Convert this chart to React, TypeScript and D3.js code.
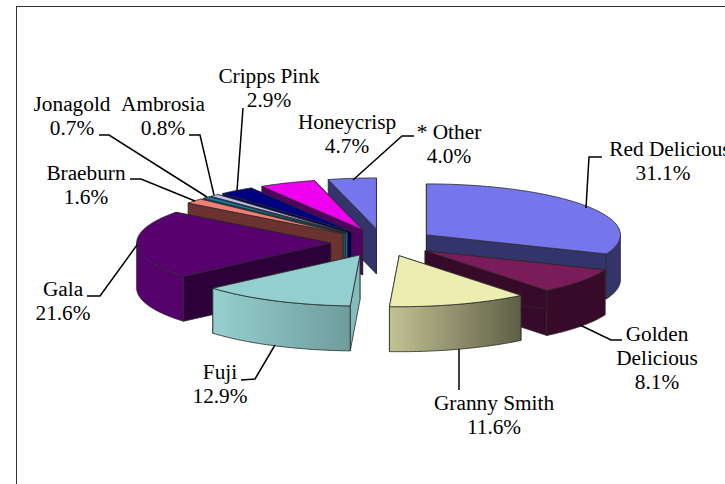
import React from 'react';
import * as d3 from 'd3';

const categories = ['Red Delicious','Golden Delicious','Granny Smith','Fuji','Gala','Braeburn','Jonagold','Ambrosia','Cripps Pink','Honeycrisp','* Other'];
const shares = [31.1,8.1,11.6,12.9,21.6,1.6,0.7,0.8,2.9,4.7,4.0];
const topColors = ['#7676ec','#7a1c5a','#ededb2','#93cfcf','#590070','#f08078','#0e84a8','#c2c2f2','#000080','#ee00ee','#7676ec'];
const wallColors = ['#34346c','#360a28','#b8b88e','#84bcbc','#2c0038','#6c3230','#0a5a70','#606088','#000058','#540060','#34346c'];
const outerFrom = ['#34346c','#360a28','#c2c294','#96d0d0','#56006c','#6c3230','#0a5a70','#606088','#000058','#540060','#34346c'];
const outerTo = ['#34346c','#360a28','#5e5e46','#6e9c9c','#56006c','#6c3230','#0a5a70','#606088','#000058','#540060','#34346c'];
const paintOrder = [10,9,8,7,6,5,4,0,1,2,3];

const labels: [string[], number, number][] = [
  [['Red Delicious'],670,156],
  [['31.1%'],663,180],
  [['Golden','Delicious','8.1%'],657,341],
  [['Granny Smith','11.6%'],494,410],
  [['Fuji','12.9%'],220,379],
  [['Gala','21.6%'],63,296],
  [['Braeburn','1.6%'],86,180],
  [['Jonagold','0.7%'],72,111],
  [['Ambrosia','0.8%'],163,111],
  [['Cripps Pink','2.9%'],269,83],
  [['Honeycrisp','4.7%'],347,129],
  [['* Other','4.0%'],449,139],
];
const leaders: [number,number][][] = [
  [[602,157],[589,157],[586,208]],
  [[622,340],[611,340],[580,325]],
  [[459,390],[459,349]],
  [[241,380],[255,379],[275,345]],
  [[87,296],[100,296],[137,245]],
  [[130,179],[141,179],[195,201]],
  [[99,135],[109,135],[207,197]],
  [[189,135],[200,135],[214,195]],
  [[243,108],[237,191]],
  [[414,136],[402,136],[353,180]],
];

const W = 725, H = 484;
const CX = 383, CY = 242.6, RX = 194, RY = 51, DEPTH = 45, EXPLODE = 0.27;
const STROKE = '#2a2a2a';

const pieGen = d3.pie<number>().sort(null).value(d => d).startAngle(0).endAngle(2 * Math.PI);
const line = d3.line<[number,number]>();
const sampled = (a0: number, a1: number) => {
  const n = Math.max(2, Math.ceil(Math.abs(a1 - a0) / 0.02));
  return d3.range(n + 1).map(i => a0 + (a1 - a0) * i / n);
};

export default function App() {
  const arcs = pieGen(shares);
  const parts = paintOrder.map(i => {
    const { startAngle: a0, endAngle: a1 } = arcs[i];
    const mid = (a0 + a1) / 2;
    const ax = CX + EXPLODE * RX * Math.sin(mid);
    const ay = CY - EXPLODE * RY * Math.cos(mid);
    const pt = (a: number, dz = 0): [number,number] => [ax + RX * Math.sin(a), ay - RY * Math.cos(a) + dz];
    const apex: [number,number] = [ax, ay];
    const apexB: [number,number] = [ax, ay + DEPTH];
    const rim = sampled(a0, a1).map(a => pt(a));
    const top = line([apex, ...rim])! + 'Z';
    const w0 = line([apex, pt(a0), pt(a0, DEPTH), apexB])! + 'Z';
    const w1 = line([apex, pt(a1), pt(a1, DEPTH), apexB])! + 'Z';
    const f0 = Math.max(a0, Math.PI / 2), f1 = Math.min(a1, 3 * Math.PI / 2);
    let outer: string | null = null;
    let xs: number[] = [ax, ax];
    if (f1 > f0) {
      const s = sampled(f0, f1);
      const up = s.map(a => pt(a));
      const dn = s.map(a => pt(a, DEPTH)).reverse();
      outer = line([...up, ...dn])! + 'Z';
      xs = d3.extent(up.map(p => p[0])) as number[];
    }
    return { i, top, w0, w1, outer, xs };
  });

  return (
    <svg width={W} height={H} viewBox={`0 0 ${W} ${H}`} style={{ position: 'fixed', left: 0, top: 0, display: 'block', background: '#fff' }}>
      <defs>
        {parts.map(p => (
          <linearGradient key={p.i} id={`g${p.i}`} gradientUnits="userSpaceOnUse" x1={p.xs[0]} x2={p.xs[1]} y1={0} y2={0}>
            <stop offset="0" stopColor={outerFrom[p.i]} />
            <stop offset="1" stopColor={outerTo[p.i]} />
          </linearGradient>
        ))}
      </defs>
      <rect x={16.5} y={6.5} width={900} height={700} fill="#fff" stroke="#333" strokeWidth={1} />
      {parts.map(p => (
        <g key={p.i} aria-label={categories[p.i]} stroke={STROKE} strokeWidth={0.8} strokeLinejoin="round">
          <path d={p.w1} fill={wallColors[p.i]} />
          <path d={p.w0} fill={wallColors[p.i]} />
          {p.outer && <path d={p.outer} fill={`url(#g${p.i})`} />}
          <path d={p.top} fill={topColors[p.i]} />
        </g>
      ))}
      {leaders.map((l, i) => (
        <path key={i} d={line(l)!} fill="none" stroke="#000" strokeWidth={1.5} />
      ))}
      {labels.map(([lines, x, y], i) => (
        <text key={i} x={x} y={y} textAnchor="middle" fontFamily="'Liberation Serif'" fontSize={21.3} fill="#000">
          {lines.map((t, j) => <tspan key={j} x={x} y={y + j * 24}>{t}</tspan>)}
        </text>
      ))}
    </svg>
  );
}
